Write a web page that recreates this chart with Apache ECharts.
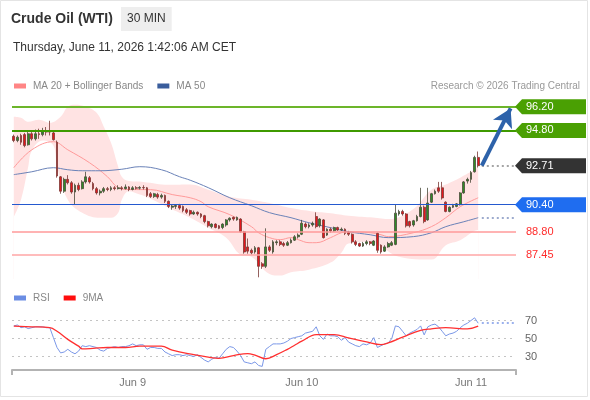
<!DOCTYPE html>
<html>
<head>
<meta charset="utf-8">
<script src="https://cdn.jsdelivr.net/npm/echarts@6/dist/echarts.min.js"></script>
<style>
  html, body { margin: 0; padding: 0; background: #fff; }
  #chart { width: 590px; height: 400px; }
</style>
</head>
<body>
<div id="chart"></div>
<script>
// 30 min candles, [open, close, low, high]
const candles = [
  [94.45, 94.20, 94.10, 94.55], [94.20, 94.40, 94.10, 94.50], [94.50, 94.10, 93.95, 94.60], [94.55, 93.90, 93.80, 94.65],
  [93.95, 94.60, 93.90, 94.70], [94.60, 94.30, 94.20, 94.70], [94.30, 94.60, 94.20, 94.85], [94.60, 94.55, 94.30, 94.90],
  [94.55, 94.75, 94.45, 94.95], [94.75, 94.70, 94.50, 95.00], [94.75, 94.70, 94.50, 95.37], [94.65, 94.25, 94.20, 94.75],
  [94.10, 92.10, 92.00, 94.20], [92.05, 91.20, 91.05, 92.10], [91.20, 91.90, 91.10, 92.00], [91.90, 91.70, 91.60, 92.15],
  [91.70, 91.15, 91.05, 91.80], [91.15, 91.55, 90.40, 91.65], [91.55, 91.30, 91.20, 91.70], [91.35, 91.75, 91.30, 91.85],
  [91.75, 92.05, 91.65, 92.35], [92.00, 91.75, 91.65, 92.10], [91.65, 91.35, 91.25, 91.75], [91.35, 91.10, 91.00, 91.45],
  [91.10, 91.20, 90.95, 91.30], [91.20, 91.35, 91.10, 91.45], [91.35, 91.30, 91.20, 91.45], [91.30, 91.40, 91.20, 91.50],
  [91.40, 91.35, 91.25, 91.50], [91.35, 91.40, 91.30, 91.55], [91.40, 91.35, 91.25, 91.50], [91.35, 91.45, 91.30, 91.60],
  [91.45, 91.30, 91.20, 91.50], [91.30, 91.40, 91.25, 91.50], [91.40, 91.38, 91.30, 91.50], [91.38, 91.42, 91.30, 91.50],
  [91.42, 91.40, 91.30, 91.55], [91.40, 90.95, 90.85, 91.45], [91.05, 90.88, 90.80, 91.15], [90.88, 91.05, 90.80, 91.10],
  [91.00, 90.85, 90.75, 91.10], [90.85, 90.95, 90.75, 91.05], [90.95, 90.60, 90.50, 91.00], [90.60, 90.30, 90.20, 90.65],
  [90.25, 90.32, 90.10, 90.40], [90.30, 90.35, 90.15, 90.40], [90.35, 90.20, 90.10, 90.45], [90.30, 90.05, 89.95, 90.35],
  [90.10, 89.95, 89.85, 90.20], [90.05, 89.85, 89.75, 90.10], [89.85, 89.95, 89.80, 90.05], [89.95, 89.85, 89.75, 90.00],
  [89.85, 89.70, 89.60, 89.90], [89.75, 89.40, 89.30, 89.80], [89.40, 89.15, 89.05, 89.45], [89.10, 89.25, 89.00, 89.30],
  [89.25, 89.05, 89.00, 89.30], [89.15, 89.00, 88.95, 89.20], [89.05, 89.25, 88.95, 89.30], [89.20, 89.50, 89.10, 89.55],
  [89.50, 89.60, 89.40, 89.65], [89.65, 89.55, 89.45, 89.70], [89.50, 89.65, 89.45, 89.70], [89.55, 88.80, 88.75, 89.60],
  [88.80, 87.60, 87.50, 88.85], [87.90, 87.65, 87.50, 88.40], [87.70, 87.55, 87.45, 87.80], [87.60, 87.85, 87.50, 87.95],
  [87.85, 86.75, 86.10, 87.90], [86.90, 86.75, 86.60, 87.00], [86.75, 87.90, 86.65, 89.00], [87.90, 87.70, 87.60, 88.00],
  [87.60, 88.20, 87.50, 88.30], [88.15, 88.20, 88.00, 88.30], [88.20, 88.05, 87.95, 88.30], [88.10, 88.00, 87.90, 88.20],
  [88.00, 88.15, 87.95, 88.25], [88.15, 88.30, 88.10, 88.40], [88.30, 88.50, 88.25, 88.60], [88.50, 88.60, 88.40, 88.70],
  [88.65, 89.30, 88.60, 89.50], [89.25, 89.10, 89.00, 89.35], [89.10, 89.20, 89.00, 89.30], [89.20, 89.30, 89.10, 89.40],
  [89.70, 89.10, 89.00, 89.95], [89.15, 89.55, 89.05, 89.60], [89.50, 88.45, 88.40, 89.55], [88.60, 88.95, 88.55, 89.00],
  [88.95, 88.85, 88.75, 89.05], [88.85, 89.05, 88.80, 89.10], [89.05, 88.90, 88.85, 89.10], [88.90, 88.95, 88.85, 89.05],
  [88.95, 88.70, 88.60, 89.00], [88.75, 88.65, 88.55, 88.85], [88.65, 88.20, 88.10, 88.70], [88.20, 88.05, 87.95, 88.30],
  [88.10, 87.95, 87.90, 88.15], [87.95, 88.10, 87.90, 88.20], [88.10, 88.20, 88.00, 88.30], [88.20, 88.10, 88.00, 88.25],
  [88.00, 88.25, 87.95, 88.30], [88.70, 87.70, 87.55, 88.75], [88.00, 87.60, 87.50, 88.05], [87.65, 87.90, 87.60, 88.00],
  [87.90, 88.10, 87.85, 88.20], [88.00, 88.15, 87.95, 88.25], [88.05, 89.90, 88.00, 90.40], [89.85, 90.00, 89.75, 90.10],
  [90.00, 89.85, 89.75, 90.10], [89.85, 89.15, 89.05, 89.90], [89.40, 89.15, 89.05, 89.45], [89.20, 89.45, 89.10, 89.50],
  [89.45, 89.70, 89.40, 89.80], [89.70, 90.25, 89.65, 91.40], [90.25, 89.40, 89.30, 90.35], [89.50, 90.50, 89.45, 91.40],
  [90.55, 91.05, 90.50, 91.10], [91.05, 91.20, 91.00, 91.30], [91.40, 91.20, 91.10, 91.75], [91.40, 90.80, 90.70, 91.75],
  [90.55, 90.00, 89.95, 90.60], [90.00, 90.25, 89.95, 90.30], [90.25, 90.35, 90.20, 90.45], [90.30, 90.45, 90.25, 90.50],
  [90.40, 91.10, 90.35, 91.15], [91.10, 91.75, 91.05, 91.80], [91.80, 91.90, 91.65, 92.00], [91.90, 92.30, 91.70, 92.40],
  [92.35, 93.20, 92.30, 93.30], [93.20, 92.71, 92.60, 93.55]
];

// indicator curves, [bar index, value]
const bbUpper = [[0, 95.61], [2, 95.55], [4, 95.31], [7, 95.43], [10, 95.25], [13, 95.61], [15, 96.2], [17, 96.32],
  [20, 96.2], [23, 95.84], [25, 95.02], [27, 94.07], [29, 92.65], [30, 92.06], [32, 91.8], [36, 91.75], [43, 91.58],
  [49, 91.6], [54, 91.29], [60, 90.87], [66, 90.7], [71, 90.5], [77, 90.2], [83, 90.0], [88, 89.9], [93, 89.75],
  [99, 89.65], [104, 89.55], [111, 90.15], [116, 91.29], [120, 91.6], [124, 92.0], [129, 92.6]];
const bbLower = [[0, 89.69], [2, 90.7], [4, 92.65], [5, 93.6], [8, 94.2], [11, 93.9], [12, 92.65], [15, 90.7],
  [19, 89.93], [24, 89.63], [27, 89.63], [29, 89.93], [30, 90.7], [32, 91.2], [35, 91.0], [37, 90.85], [43, 90.22],
  [49, 89.63], [54, 89.04], [59, 88.45], [63, 87.44], [66, 87.32], [71, 86.3], [74, 86.2], [77, 86.4], [82, 86.55],
  [88, 86.97], [91, 87.56], [93, 88.1], [99, 88.2], [102, 87.91], [107, 87.32], [116, 87.15], [120, 88.0],
  [124, 88.3], [128, 88.85], [129, 88.9]];
const ma20 = [[0, 92.59], [5, 93.65], [11, 94.13], [15, 93.65], [21, 92.89], [26, 92.06], [29, 91.41], [32, 91.3],
  [38, 91.29], [44, 91.0], [49, 90.81], [52, 90.58], [54, 90.28], [60, 89.81], [66, 89.1], [68, 88.74], [71, 88.45],
  [74, 88.33], [77, 88.45], [79, 88.33], [82, 88.15], [84, 88.15], [88, 88.45], [91, 88.74], [93, 88.8], [99, 88.74],
  [102, 88.62], [104, 88.51], [111, 88.74], [116, 89.1], [120, 89.63], [124, 90.28], [129, 90.81]];
const ma50 = [[0, 92.18], [5, 92.35], [11, 92.59], [15, 92.47], [19, 92.41], [24, 92.41], [30, 92.5], [35, 92.65],
  [41, 92.47], [46, 92.06], [49, 91.85], [54, 91.41], [60, 90.81], [66, 90.34], [71, 89.93], [77, 89.63], [82, 89.33],
  [88, 89.04], [93, 88.8], [99, 88.62], [104, 88.45], [111, 88.51], [116, 88.74], [120, 89.1], [125, 89.39], [129, 89.63]];

const rsi = [64, 65, 62, 63, 61, 62, 63, 63, 63, 62, 62, 51, 40, 34, 35, 38, 35, 33, 36, 42,
  41, 42, 41, 40, 37, 36, 39, 40, 41, 40, 41, 41, 42, 44, 42, 43, 43, 38, 40, 40,
  39, 39, 35, 33, 31, 32, 32, 31, 32, 31, 30, 32, 29, 26, 24, 27, 29, 28, 33, 38,
  41, 40, 36, 31, 24, 23, 22, 24, 20, 19, 38, 41, 44, 44, 44, 45, 47, 50, 51, 52,
  53, 56, 57, 58, 63, 53, 49, 55, 53, 53, 52, 48, 51, 46, 44, 42, 41, 44, 43, 45,
  51, 40, 42, 44, 45, 50, 64, 63, 58, 53, 56, 58, 60, 64, 54, 63, 65, 66, 63, 58,
  53, 55, 56, 58, 62, 65, 67, 70, 73, 67];
const rsiMa = [[0, 63.7], [5, 63], [10, 62], [12, 58], [15, 49], [18, 41.5], [19, 38.5], [22, 39], [26, 40], [31, 40],
  [35, 41.5], [41, 41.5], [44, 37], [50, 32], [54, 29.3], [57, 28], [61, 31], [65, 33.3], [67, 31.5], [70, 27.5],
  [73, 32], [76, 38], [78, 42.5], [80, 47], [84, 54.4], [89, 54.4], [93, 50.7], [98, 46.3], [102, 43.3], [104, 45.2],
  [108, 51.5], [113, 59], [116, 60.7], [120, 62], [126, 60.7], [129, 63.7]];

// key levels
const levelValues = [96.20, 94.80, 92.71, 90.40, 88.80, 87.45];
const lastClose = 92.71;
const arrowTarget = 96.10;
const ma50Last = 89.63;
const rsiLast = 67.4;
const rsiLevels = [70, 50, 30];

// x axis
const slotCount = 140;
const dayLabels = ['Jun 9', 'Jun 10', 'Jun 11'];
const dayLabelSlots = [33, 80, 127];

const slots = Array.from({length: slotCount}, (_, i) => String(i));
const lastBar = candles.length - 1;

const FONT = 'Arial, "Liberation Sans", sans-serif';
const levelBox = ['#4aa003', '#4aa003', '#333333', '#1f6df0', null, null];
const levelText = ['#ffffff', '#ffffff', '#ffffff', '#ffffff', '#ff2b2b', '#ff2b2b'];
const levelLine = [
  {color: '#6cb52a', width: 2},
  {color: '#3f9a00', width: 2},
  null,
  {color: '#2459cf', width: 1.2},
  {color: '#ff9a9a', width: 1.5},
  {color: '#ffa6a6', width: 1.5}
];

const chart = echarts.init(document.getElementById('chart'));

const option = {
  animation: false,
  backgroundColor: '#ffffff',
  textStyle: {fontFamily: FONT},
  title: [
    {text: 'Crude Oil (WTI)', left: 11, top: 12, padding: 0,
      textStyle: {fontSize: 14, fontWeight: 'bold', color: '#333', fontFamily: FONT}},
    {text: '30 MIN', left: 121, top: 7, padding: [6, 6], backgroundColor: '#eeeeee',
      textStyle: {fontSize: 12, fontWeight: 'normal', color: '#333', lineHeight: 12, fontFamily: FONT}},
    {text: 'Thursday, June 11, 2026 1:42:06 AM CET', left: 13, top: 42, padding: 0,
      textStyle: {fontSize: 12, fontWeight: 'normal', color: '#333', fontFamily: FONT}},
    {text: 'Research © 2026 Trading Central', right: 10, top: 81, padding: 0,
      textStyle: {fontSize: 10, fontWeight: 'normal', color: '#999', fontFamily: FONT}}
  ],
  legend: [
    {left: 14, top: 81, padding: 0, icon: 'rect', itemWidth: 12, itemHeight: 5, itemGap: 14,
      selectedMode: false, data: ['MA 20 + Bollinger Bands', 'MA 50'],
      textStyle: {color: '#888', fontSize: 10, fontFamily: FONT, padding: [0, 0, 0, 2]}},
    {left: 14, top: 293, padding: 0, icon: 'rect', itemWidth: 12, itemHeight: 5, itemGap: 14,
      selectedMode: false, data: ['RSI', '9MA'],
      textStyle: {color: '#888', fontSize: 10, fontFamily: FONT, padding: [0, 0, 0, 2]}}
  ],
  graphic: [
    {type: 'rect', silent: true, z: -1, shape: {x: 0.5, y: 0.5, width: 587, height: 396},
      style: {fill: 'none', stroke: '#e4e4e4', lineWidth: 1}}
  ],
  grid: [
    {left: 12, top: 100, width: 504, height: 179},
    {left: 12, top: 307, width: 504, height: 63}
  ],
  xAxis: [
    {type: 'category', gridIndex: 0, data: slots, show: false},
    {type: 'category', gridIndex: 1, data: slots,
      axisLine: {show: true, lineStyle: {color: '#b3b3b3', width: 2}},
      axisTick: {show: true, length: 5, interval: (idx) => idx === 0, lineStyle: {color: '#b3b3b3', width: 2}},
      axisLabel: {
        interval: (idx) => dayLabelSlots.indexOf(idx) >= 0,
        formatter: (v, idx) => dayLabels[dayLabelSlots.indexOf(Number(v))] || '',
        color: '#777', fontSize: 11, margin: 7, fontFamily: FONT
      },
      splitLine: {show: false}}
  ],
  yAxis: [
    {type: 'value', gridIndex: 0, min: 86, max: 96.6, show: false, splitLine: {show: false}},
    {type: 'value', gridIndex: 1, min: 15, max: 85, show: false, splitLine: {show: false}}
  ],
  series: [
    {name: 'bbUpper', type: 'line', data: bbUpper, smooth: 0.4, symbol: 'none', silent: true,
      lineStyle: {width: 0}, areaStyle: {color: '#ffe3e3', opacity: 1, origin: 'start'}, z: 1},
    {name: 'bbLower', type: 'line', data: bbLower, smooth: 0.4, symbol: 'none', silent: true,
      lineStyle: {width: 0}, areaStyle: {color: '#ffffff', opacity: 1, origin: 'start'}, z: 1},
    {name: 'MA 20 + Bollinger Bands', type: 'line', data: ma20, smooth: 0.4, symbol: 'none',
      color: '#ff8585', lineStyle: {color: '#ff9a9a', width: 1}, z: 2},
    {name: 'MA 50', type: 'line', data: ma50, smooth: 0.4, symbol: 'none',
      color: '#3a5d9c', lineStyle: {color: '#6a82b8', width: 1}, z: 2},
    {
      name: 'price', type: 'candlestick', data: candles, barWidth: 2.4, z: 3,
      itemStyle: {color: '#2f8c27', color0: '#e5161c', borderColor: '#4a4a3a', borderColor0: '#7a3a36', borderWidth: 0.8},
      markLine: {
        silent: true, symbol: 'none', label: {show: false}, z: 4,
        data: levelValues.map((v, i) => levelLine[i] ? {yAxis: v, lineStyle: Object.assign({type: 'solid'}, levelLine[i])} : null)
          .filter(d => d)
          .concat([
            [{coord: [lastBar + 1, lastClose], lineStyle: {color: '#888', type: [2, 3], width: 1.5}},
             {coord: [slotCount - 1, lastClose]}],
            [{coord: [lastBar + 1, ma50Last], lineStyle: {color: '#7d90bf', type: [2, 3], width: 1.5}},
             {coord: [slotCount - 1, ma50Last]}],
            [{coord: [lastBar + 1, lastClose], symbol: 'none', lineStyle: {color: '#2d62aa', type: 'solid', width: 4}},
             {coord: [slotCount - 2, arrowTarget], symbol: 'arrow', symbolSize: [16, 18]}]
          ])
      }
    },
    {
      name: 'levels', type: 'custom', clip: false, silent: true, z: 6,
      data: levelValues.map(v => [0, v]),
      renderItem: function (params, api) {
        const i = params.dataIndex;
        const y = api.coord([0, api.value(1)])[1];
        const x0 = params.coordSys.x + params.coordSys.width;
        const children = [];
        if (levelBox[i]) {
          children.push({type: 'polygon',
            shape: {points: [[x0 - 1, y], [x0 + 6, y - 7.5], [x0 + 70, y - 7.5], [x0 + 70, y + 7.5], [x0 + 6, y + 7.5]]},
            style: {fill: levelBox[i]}});
        }
        children.push({type: 'text', x: x0 + 10, y: y,
          style: {text: api.value(1).toFixed(2), fill: levelText[i], fontSize: 11, fontFamily: FONT,
            verticalAlign: 'middle', align: 'left'}});
        return {type: 'group', children: children};
      }
    },
    {
      name: 'RSI', type: 'line', xAxisIndex: 1, yAxisIndex: 1, data: rsi, symbol: 'none',
      color: '#6b8de3', lineStyle: {color: '#7b98e8', width: 1}, z: 3,
      markLine: {
        silent: true, symbol: 'none', z: 2,
        label: {show: true, position: 'end', distance: 9, color: '#666', fontSize: 11, fontFamily: FONT, formatter: '{c}'},
        lineStyle: {color: '#c4c4c4', type: [2, 4], width: 1.2},
        data: rsiLevels.map(v => ({yAxis: v})).concat([
          [{coord: [lastBar + 1, rsiLast], label: {show: false}, lineStyle: {color: '#7b98e8', type: [2, 3], width: 1.5}},
           {coord: [slotCount - 1, rsiLast]}]
        ])
      }
    },
    {
      name: '9MA', type: 'line', xAxisIndex: 1, yAxisIndex: 1, data: rsiMa, smooth: 0.4, symbol: 'none',
      color: '#ff0d0d', lineStyle: {color: '#ff3030', width: 1.3}, z: 4
    }
  ]
};

chart.setOption(option);
</script>
</body>
</html>
